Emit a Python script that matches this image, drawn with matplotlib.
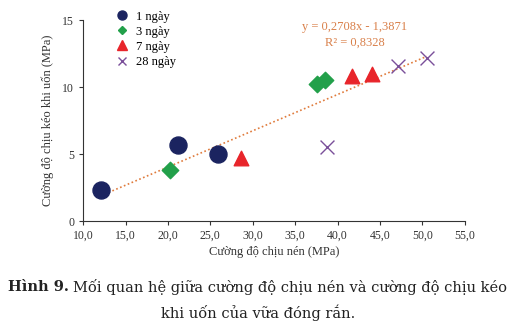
import numpy as np
import matplotlib.pyplot as plt
from matplotlib.ticker import FuncFormatter
from matplotlib.lines import Line2D

plt.rcParams['font.family'] = ['Liberation Serif', 'DejaVu Serif']

# compressive strength (x) and flexural strength (y), MPa
x_1d = [12.1, 21.2, 25.9]
y_1d = [2.3, 5.7, 5.0]
x_3d = [20.2, 37.6, 38.5]
y_3d = [3.8, 10.2, 10.5]
x_7d = [28.6, 41.7, 44.1]
y_7d = [4.7, 10.8, 11.0]
x_28d = [38.7, 47.1, 50.5]
y_28d = [5.5, 11.6, 12.2]

slope, intercept = 0.2708, -1.3871
x_ticks = [10, 15, 20, 25, 30, 35, 40, 45, 50, 55]
y_ticks = [0, 5, 10, 15]

c1, c3, c7, c28 = '#1b2460', '#22a04a', '#e8252b', '#7a4f9a'

fig = plt.figure(figsize=(5.16, 3.28), dpi=100)
ax = fig.add_axes([0.161, 0.326, 0.740, 0.613])

ax.scatter(x_1d, y_1d, s=150, color=c1, marker='o', zorder=3)
ax.scatter(x_3d, y_3d, s=70, color=c3, marker='D', zorder=3)
ax.scatter(x_7d, y_7d, s=110, color=c7, marker='^', zorder=3)
ax.scatter(x_28d, y_28d, s=100, color=c28, marker='x', linewidths=1.0, zorder=3)

all_x = x_1d + x_3d + x_7d + x_28d
xl = np.array([min(all_x), max(all_x)])
ax.plot(xl, slope * xl + intercept, linestyle=(0, (1, 1.5)), color='#e07b3c',
        linewidth=1.2, zorder=2)

ax.text(0.712, 0.965, 'y = 0,2708x - 1,3871', transform=ax.transAxes, ha='center',
        va='center', fontsize=9, color='#d9804a')
ax.text(0.712, 0.886, 'R² = 0,8328', transform=ax.transAxes, ha='center',
        va='center', fontsize=9, color='#d9804a')

ax.set_xlim(10, 55)
ax.set_ylim(0, 15)
ax.set_xticks(x_ticks)
ax.set_yticks(y_ticks)
ax.xaxis.set_major_formatter(FuncFormatter(lambda v, p: f'{v:.1f}'.replace('.', ',')))
ax.tick_params(labelsize=8.5, direction='out', length=3, colors='#333333')
for s in ['top', 'right']:
    ax.spines[s].set_visible(False)
for s in ['left', 'bottom']:
    ax.spines[s].set_color('#333333')

ax.set_xlabel('Cường độ chịu nén (MPa)', fontsize=9, color='#333333', labelpad=3)
ax.set_ylabel('Cường độ chịu kéo khi uốn (MPa)', fontsize=9, color='#333333', labelpad=6)

handles = [
    Line2D([], [], linestyle='none', marker='o', markersize=6.5, color=c1),
    Line2D([], [], linestyle='none', marker='D', markersize=4.5, color=c3),
    Line2D([], [], linestyle='none', marker='^', markersize=6.5, color=c7),
    Line2D([], [], linestyle='none', marker='x', markersize=6, color=c28, markeredgewidth=1),
]
labels = ['1 ngày', '3 ngày', '7 ngày', '28 ngày']
ax.legend(handles, labels, loc='upper left', bbox_to_anchor=(0.215, 0.983),
          bbox_transform=fig.transFigure, frameon=False, fontsize=9,
          handletextpad=0.6, labelspacing=0.25, borderaxespad=0, handlelength=1.0)

# caption, bold lead-in followed by regular text
cap_kw = dict(fontsize=10.55, va='center', color='#222222', family=['DejaVu Serif'])
t_bold = fig.text(0.016, 0.125, 'Hình 9.', fontweight='bold', ha='left', **cap_kw)
fig.canvas.draw()
bb = t_bold.get_window_extent().transformed(fig.transFigure.inverted())
fig.text(bb.x1 + 0.008, 0.125, 'Mối quan hệ giữa cường độ chịu nén và cường độ chịu kéo',
         ha='left', **cap_kw)
fig.text(0.5, 0.046, 'khi uốn của vữa đóng rắn.', ha='center', **cap_kw)

fig.savefig('out.png', dpi=100)
